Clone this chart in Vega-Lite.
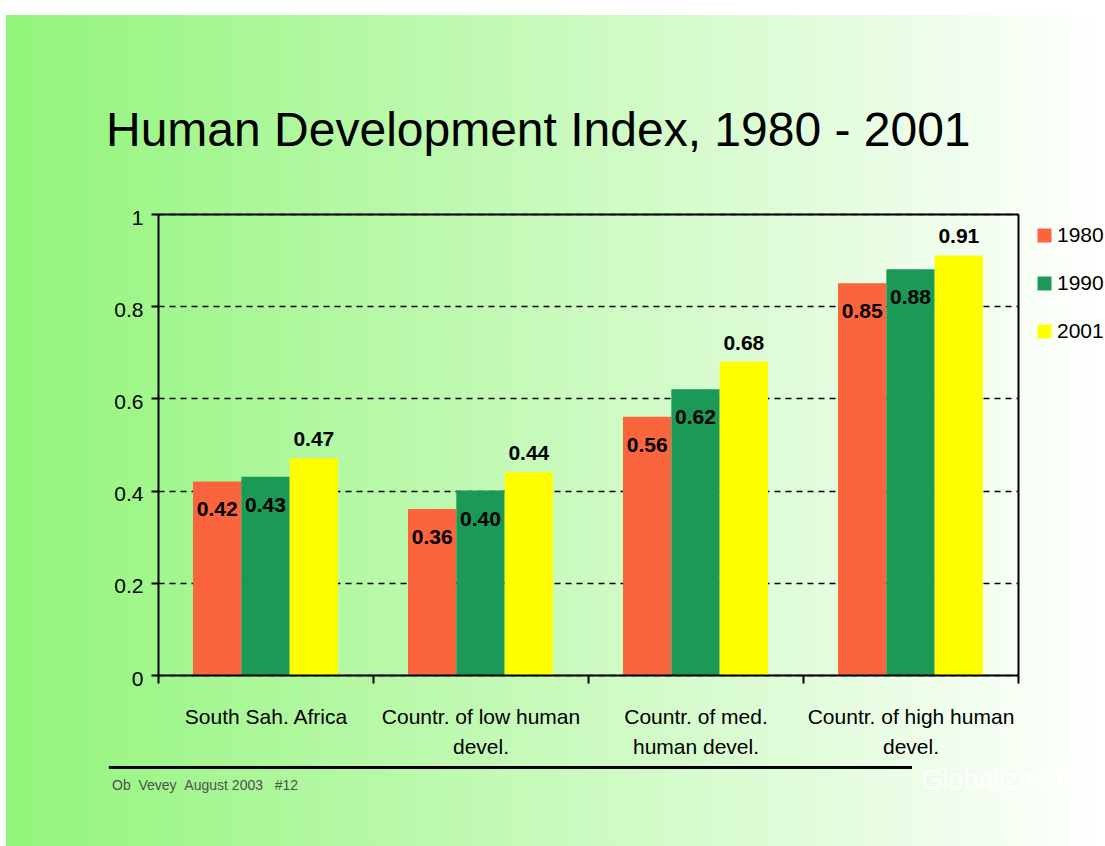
{
  "$schema": "https://vega.github.io/schema/vega-lite/v6.json",
  "width": 1099,
  "height": 831,
  "autosize": {"type": "none"},
  "padding": {"left": 6, "top": 15, "right": 0, "bottom": 0},
  "background": "#ffffff",
  "title": {
    "text": "Human Development Index, 1980 - 2001",
    "anchor": "start",
    "frame": "group",
    "orient": "top",
    "baseline": "alphabetic",
    "offset": -132,
    "dx": 100,
    "dy": 47,
    "fontSize": 48,
    "fontWeight": "normal",
    "color": "#000000",
    "font": "Liberation Sans"
  },
  "data": {
    "values": [
      {"group": "South Sah. Africa", "year": "1980", "value": 0.42},
      {"group": "South Sah. Africa", "year": "1990", "value": 0.43},
      {"group": "South Sah. Africa", "year": "2001", "value": 0.47},
      {"group": "Countr. of low human devel.", "year": "1980", "value": 0.36},
      {"group": "Countr. of low human devel.", "year": "1990", "value": 0.40},
      {"group": "Countr. of low human devel.", "year": "2001", "value": 0.44},
      {"group": "Countr. of med. human devel.", "year": "1980", "value": 0.56},
      {"group": "Countr. of med. human devel.", "year": "1990", "value": 0.62},
      {"group": "Countr. of med. human devel.", "year": "2001", "value": 0.68},
      {"group": "Countr. of high human devel.", "year": "1980", "value": 0.85},
      {"group": "Countr. of high human devel.", "year": "1990", "value": 0.88},
      {"group": "Countr. of high human devel.", "year": "2001", "value": 0.91}
    ]
  },
  "layer": [
    {
      "mark": {"type": "bar", "strokeWidth": 0},
      "encoding": {
        "x": {
          "field": "group",
          "type": "nominal",
          "scale": {"domain": ["South Sah. Africa", "Countr. of low human devel.", "Countr. of med. human devel.", "Countr. of high human devel."], "range": [152, 1012], "paddingInner": 0, "paddingOuter": 0},
          "axis": {
            "orient": "bottom",
            "offset": -171,
            "zindex": 1,
            "domainColor": "#000000",
            "domainWidth": 2,
            "tickColor": "#000000",
            "tickWidth": 2,
            "tickSize": 8,
            "tickBand": "extent",
            "labelAngle": 0,
            "labelFontSize": 21,
            "labelColor": "#000000",
            "labelPadding": 40,
            "labelBaseline": "alphabetic",
            "labelLineHeight": 30,
            "labelLimit": 400,
            "labelExpr": "datum.label == 'Countr. of low human devel.' ? ['Countr. of low human', 'devel.'] : datum.label == 'Countr. of med. human devel.' ? ['Countr. of med.', 'human devel.'] : datum.label == 'Countr. of high human devel.' ? ['Countr. of high human', 'devel.'] : datum.label",
            "title": "Ob\u00a0\u00a0Vevey\u00a0\u00a0August 2003\u00a0\u00a0\u00a0#12",
            "titleX": 105.5,
            "titleY": 114,
            "titleAlign": "left",
            "titleBaseline": "alphabetic",
            "titleFontSize": 14,
            "titleFontWeight": "normal",
            "titleColor": "#505050"
          }
        },
        "xOffset": {
          "field": "year",
          "type": "nominal",
          "scale": {"paddingOuter": 0.724, "paddingInner": 0}
        },
        "y": {
          "field": "value",
          "type": "quantitative",
          "scale": {"domain": [0, 1], "range": [660, 199], "nice": false},
          "axis": {
            "orient": "left",
            "offset": -152,
            "zindex": 0,
            "values": [0, 0.2, 0.4, 0.6, 0.8, 1],
            "format": ".1~f",
            "domainColor": "#000000",
            "domainWidth": 2,
            "tickColor": "#000000",
            "tickWidth": 2,
            "tickSize": 7,
            "labelFontSize": 21,
            "labelColor": "#000000",
            "labelPadding": 8,
            "labelOffset": 4,
            "grid": true,
            "gridColor": "#000000",
            "gridDash": [6, 5],
            "gridWidth": 1.5,
            "gridOpacity": 1,
            "title": null
          }
        },
        "color": {
          "field": "year",
          "type": "nominal",
          "scale": {"domain": ["1980", "1990", "2001"], "range": ["#FA653D", "#1B9957", "#FFFF00"]},
          "legend": {
            "orient": "none",
            "legendX": 1028,
            "legendY": 210,
            "title": null,
            "symbolType": "square",
            "symbolSize": 196,
            "symbolStrokeWidth": 0,
            "symbolOpacity": 1,
            "labelFontSize": 21,
            "labelColor": "#000000",
            "labelOffset": 2,
            "rowPadding": 26,
            "padding": 0
          }
        }
      }
    },
    {
      "mark": {
        "type": "text",
        "font": "Liberation Sans",
        "fontSize": 21,
        "fontWeight": "bold",
        "color": "#000000",
        "baseline": "middle",
        "align": "center",
        "dy": {"expr": "datum.year == '2001' ? -18 : 29"}
      },
      "encoding": {
        "x": {
          "field": "group",
          "type": "nominal",
          "scale": {"domain": ["South Sah. Africa", "Countr. of low human devel.", "Countr. of med. human devel.", "Countr. of high human devel."]},
          "axis": {
            "orient": "top",
            "offset": -199,
            "zindex": 2,
            "domain": true,
            "domainColor": "#000000",
            "domainWidth": 2,
            "ticks": false,
            "labels": false,
            "grid": false,
            "title": "Globalization",
            "titleX": 915,
            "titleY": 574,
            "titleAlign": "left",
            "titleBaseline": "alphabetic",
            "titleFontSize": 27,
            "titleFontWeight": "normal",
            "titleColor": "#ffffff"
          }
        },
        "xOffset": {"field": "year", "type": "nominal"},
        "y": {
          "field": "value",
          "type": "quantitative",
          "scale": {"domain": [0, 1]},
          "axis": {
            "orient": "right",
            "offset": -87,
            "zindex": 2,
            "domain": true,
            "domainColor": "#000000",
            "domainWidth": 2,
            "ticks": false,
            "labels": false,
            "grid": false,
            "title": null
          }
        },
        "text": {"field": "value", "type": "quantitative", "format": ".2f"}
      }
    },
    {
      "mark": {"type": "rule", "color": "#000000", "strokeWidth": 2, "clip": false},
      "encoding": {
        "x": {
          "datum": "South Sah. Africa",
          "type": "nominal",
          "bandPosition": -0.228,
          "scale": {"domain": ["South Sah. Africa", "Countr. of low human devel.", "Countr. of med. human devel.", "Countr. of high human devel."]},
          "axis": null
        },
        "x2": {"datum": "Countr. of high human devel.", "bandPosition": 0.506},
        "y": {
          "datum": -0.2,
          "type": "quantitative",
          "scale": {"domain": [0, 1]},
          "axis": null
        }
      }
    }
  ],
  "resolve": {"axis": {"x": "independent", "y": "independent"}},
  "config": {
    "font": "Liberation Sans",
    "view": {
      "stroke": null,
      "fill": {
        "gradient": "linear",
        "x1": 0, "y1": 0, "x2": 1, "y2": 0,
        "stops": [
          {"offset": 0, "color": "#92F57A"},
          {"offset": 1, "color": "#FFFFFF"}
        ]
      }
    },
    "axis": {"labelFont": "Liberation Sans", "titleFont": "Liberation Sans"},
    "legend": {"labelFont": "Liberation Sans"}
  }
}
